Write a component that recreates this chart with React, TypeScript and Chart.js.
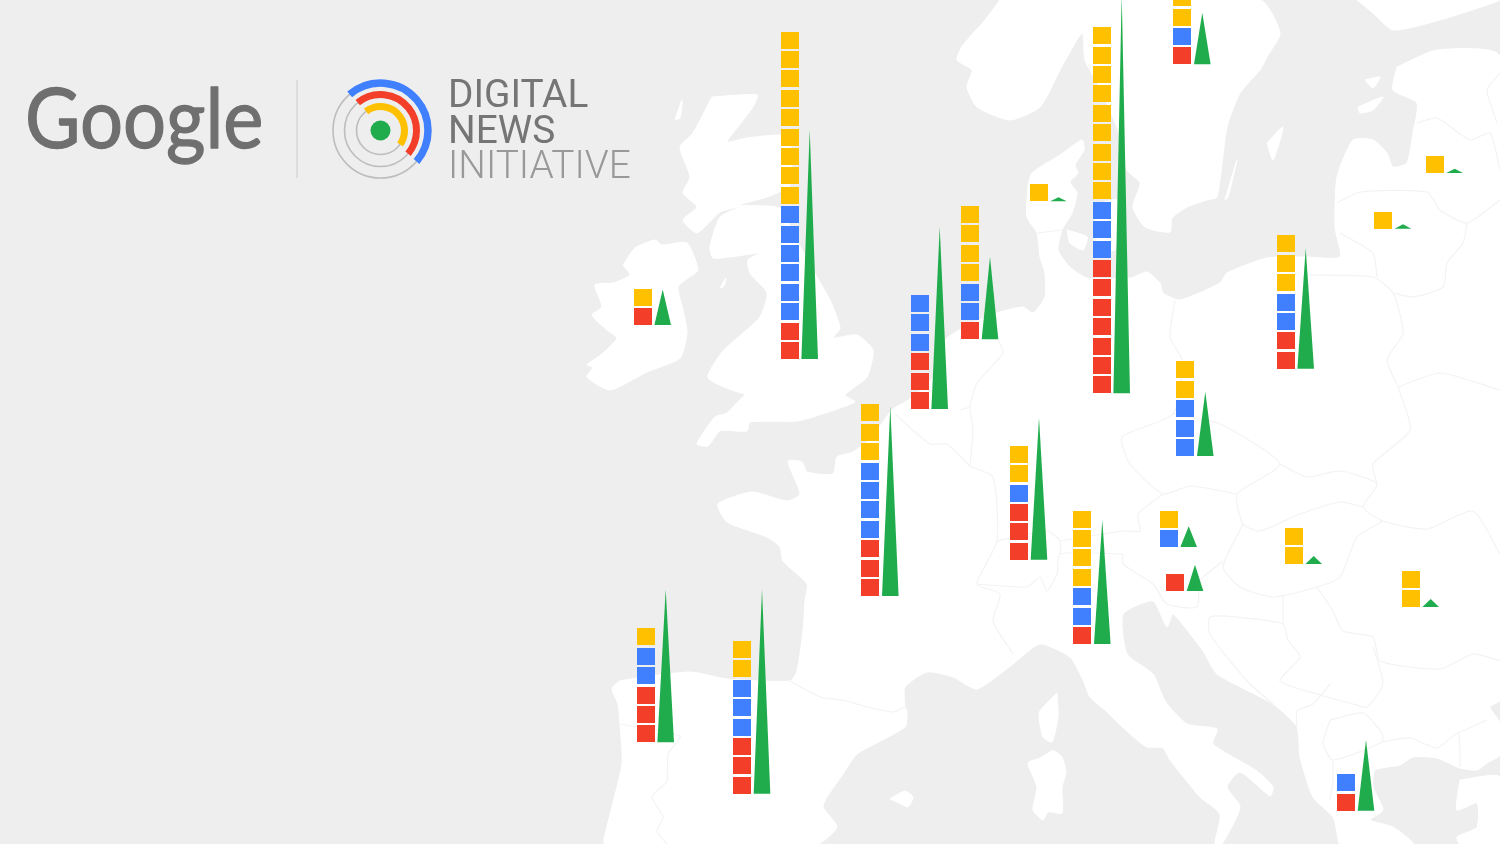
import React, { useEffect, useRef } from 'react';
import { Chart } from 'chart.js/auto';

// one entry per country, in map units (same order in every list)
const countries = ['Ireland', 'UK', 'Belgium', 'Netherlands', 'Germany', 'Sweden', 'Denmark', 'Latvia', 'Lithuania', 'Poland', 'Czechia', 'France', 'Switzerland', 'Portugal', 'Spain', 'Italy', 'Austria', 'Slovenia', 'Hungary', 'Romania', 'Greece'];
const stackX = [642.7, 789.7, 919.7, 970, 1101.7, 1182.3, 1038.5, 1434.7, 1383, 1285.7, 1185.3, 870.3, 1019, 645.7, 742, 1082.3, 1168.7, 1175, 1293.7, 1410.7, 1346];
const stackBase = [325, 359, 409, 339.3, 393.3, 64.3, 201.3, 173, 228.7, 368.7, 456, 596, 559.7, 742.3, 793.7, 644, 547, 591, 564, 607, 810.7];
const yellowCounts = [1, 9, 0, 4, 9, 2, 1, 1, 1, 3, 2, 3, 2, 1, 2, 4, 1, 0, 2, 2, 0];
const blueCounts = [0, 6, 3, 2, 3, 1, 0, 0, 0, 2, 3, 4, 1, 2, 3, 2, 1, 0, 0, 0, 1];
const redCounts = [1, 2, 3, 1, 7, 1, 0, 0, 0, 2, 0, 3, 3, 3, 3, 1, 0, 1, 0, 0, 1];
const fundingHeights = [35.5, 229, 182, 82.5, 399, 51.5, 4, 4.3, 4.4, 120.4, 64.3, 190, 142, 153, 204.7, 124, 20.7, 26.3, 8, 8, 70.7];

const mainland = [[1397, 67], [1437, 50], [1500, 57], [1500, 700], [1490, 707], [1500, 723], [1500, 755], [1487, 763], [1477, 770], [1460, 768], [1437, 758], [1413, 757], [1400, 765], [1375, 770], [1373, 787], [1383, 810], [1370, 820], [1393, 827], [1413, 844], [1340, 844], [1337, 833], [1333, 817], [1313, 797], [1300, 757], [1297, 727], [1273, 704], [1217, 674], [1203, 651], [1173, 614], [1167, 627], [1153, 601], [1123, 614], [1127, 654], [1153, 674], [1165, 701], [1187, 724], [1217, 729], [1213, 744], [1257, 771], [1273, 787], [1270, 796], [1240, 772], [1227, 787], [1240, 807], [1222, 844], [1215, 844], [1220, 814], [1200, 797], [1170, 760], [1163, 748], [1147, 747], [1137, 740], [1117, 722], [1107, 712], [1090, 697], [1083, 680], [1070, 657], [1040, 644], [1013, 664], [977, 689], [953, 677], [927, 672], [905, 687], [905, 707], [907, 711], [905, 727], [857, 754], [843, 774], [827, 797], [823, 807], [837, 827], [817, 844], [605, 844], [607, 827], [622, 764], [620, 724], [618, 704], [612, 689], [620, 681], [690, 672], [727, 679], [790, 681], [797, 671], [803, 631], [805, 601], [807, 584], [783, 561], [780, 547], [767, 537], [727, 522], [718, 504], [752, 492], [787, 501], [800, 494], [788, 461], [802, 462], [807, 472], [833, 474], [837, 457], [853, 452], [872, 437], [892, 410], [913, 397], [935, 375], [945, 340], [975, 322], [1000, 312], [1023, 307], [1033, 313], [1045, 297], [1045, 273], [1040, 257], [1037, 233], [1027, 217], [1028, 187], [1032, 173], [1060, 155], [1082, 140], [1084, 150], [1075, 165], [1078, 173], [1070, 182], [1077, 193], [1072, 213], [1062, 230], [1058, 250], [1070, 267], [1087, 278], [1130, 278], [1147, 272], [1160, 283], [1163, 293], [1180, 300], [1220, 283], [1227, 273], [1267, 258], [1307, 257], [1340, 257], [1335, 227], [1337, 177], [1353, 140], [1373, 140], [1387, 153], [1393, 167], [1407, 163], [1413, 133], [1417, 103], [1393, 90], [1397, 67]];
const greatBritain = [[712, 97], [757, 95], [753, 107], [737, 128], [727, 142], [747, 138], [780, 135], [790, 140], [790, 185], [767, 197], [740, 205], [780, 208], [793, 233], [813, 270], [830, 300], [840, 328], [833, 338], [857, 335], [873, 350], [867, 377], [845, 395], [855, 402], [813, 417], [797, 421], [750, 422], [747, 431], [720, 431], [708, 446], [697, 444], [715, 417], [727, 413], [745, 395], [773, 382], [750, 395], [708, 378], [722, 352], [735, 340], [760, 317], [767, 293], [750, 273], [748, 260], [760, 253], [730, 257], [713, 258], [710, 247], [720, 217], [740, 207], [720, 212], [697, 233], [683, 220], [697, 207], [683, 193], [690, 177], [680, 147], [693, 133], [712, 97]];
const ireland = [[623, 265], [635, 248], [655, 240], [662, 245], [687, 243], [698, 270], [688, 278], [678, 287], [683, 310], [687, 333], [680, 358], [647, 372], [610, 390], [587, 377], [593, 367], [587, 365], [603, 353], [617, 338], [607, 330], [592, 315], [602, 307], [595, 285], [613, 283], [630, 275], [623, 265]];
const scandinavia = [[1000, 0], [985, 20], [963, 45], [957, 60], [972, 70], [967, 87], [977, 107], [1010, 120], [1040, 107], [1060, 70], [1078, 38], [1083, 33], [1085, 60], [1101, 90], [1118, 130], [1127, 170], [1140, 183], [1133, 207], [1145, 227], [1170, 232], [1172, 218], [1187, 207], [1207, 200], [1217, 197], [1227, 127], [1240, 93], [1260, 70], [1267, 57], [1280, 33], [1260, 0], [1000, 0]];
const finland = [[1357, 0], [1373, 13], [1393, 30], [1440, 20], [1500, 0], [1357, 0]];
const turkey = [[1460, 780], [1500, 777], [1500, 844], [1460, 844], [1457, 837], [1477, 827], [1477, 803], [1457, 810], [1460, 780]];
const funen = [[1067, 230], [1087, 237], [1083, 250], [1070, 243], [1067, 230]];
const zealand = [[1095, 205], [1118, 200], [1115, 250], [1095, 245], [1095, 205]];
const gotland = [[1267, 143], [1283, 127], [1273, 160], [1267, 143]];
const saaremaa = [[1358, 107], [1383, 97], [1373, 110], [1360, 113], [1358, 107]];
const hiiumaa = [[1365, 80], [1380, 77], [1373, 88], [1365, 80]];
const oland = [[1225, 200], [1237, 160], [1228, 197], [1225, 200]];
const corsica = [[1057, 693], [1058, 717], [1052, 742], [1043, 737], [1039, 713], [1047, 703], [1057, 693]];
const sardinia = [[1053, 750], [1062, 757], [1066, 772], [1062, 787], [1062, 813], [1048, 812], [1043, 820], [1033, 810], [1037, 787], [1028, 763], [1040, 758], [1053, 750]];
const mallorca = [[890, 799], [905, 791], [913, 797], [908, 807], [897, 802], [890, 799]];
const hebrides = [[675, 120], [682, 100], [680, 118], [675, 120]];
const isleOfMan = [[720, 288], [726, 278], [724, 286], [720, 288]];
const landOutlines = [mainland, greatBritain, ireland, scandinavia, finland, turkey, funen, zealand, gotland, saaremaa, hiiumaa, oland, corsica, sardinia, mallorca, hebrides, isleOfMan];

const borderLines = [
  [[790, 681], [820, 697], [847, 701], [867, 707], [893, 712], [905, 707]],
  [[620, 724], [680, 736], [668, 754], [667, 781], [652, 797], [663, 817], [657, 831], [667, 844]],
  [[895, 414], [930, 444], [947, 444], [970, 466], [993, 477], [997, 541], [977, 584], [1000, 594], [993, 621], [1013, 654]],
  [[977, 584], [1027, 587], [1040, 577], [1047, 591], [1057, 574], [1060, 554], [1123, 554]],
  [[997, 541], [1047, 531], [1060, 541], [1060, 554]],
  [[1060, 541], [1123, 531], [1140, 531], [1138, 514], [1163, 494]],
  [[998, 340], [1003, 353], [977, 383], [970, 407], [973, 430], [970, 466]],
  [[960, 410], [970, 407]],
  [[1175, 300], [1170, 337], [1182, 360], [1173, 414], [1122, 437], [1130, 464], [1163, 494], [1190, 486], [1237, 494]],
  [[1173, 414], [1220, 424], [1280, 464], [1237, 494], [1243, 524], [1260, 531], [1300, 514], [1340, 502], [1363, 507]],
  [[1280, 464], [1307, 477], [1340, 471], [1377, 484], [1363, 507], [1383, 521], [1427, 529], [1473, 511], [1500, 554]],
  [[1383, 521], [1357, 537], [1340, 577], [1317, 587], [1273, 597], [1240, 587], [1223, 567], [1243, 524]],
  [[1223, 561], [1200, 581], [1197, 607], [1167, 604], [1153, 584], [1123, 564], [1123, 554]],
  [[1317, 587], [1333, 611], [1343, 631], [1373, 637], [1380, 661], [1440, 669], [1473, 654], [1500, 661]],
  [[1373, 647], [1383, 684], [1367, 707], [1353, 704], [1317, 694], [1280, 681], [1300, 657], [1288, 640], [1283, 624], [1237, 617], [1210, 617], [1210, 634], [1247, 681], [1273, 704]],
  [[1283, 594], [1283, 624]],
  [[1382, 742], [1410, 738], [1437, 748], [1458, 733], [1460, 767]],
  [[1458, 733], [1487, 720]],
  [[1330, 720], [1363, 713], [1382, 733], [1382, 742], [1333, 760], [1323, 743], [1330, 720]],
  [[1333, 760], [1333, 780], [1330, 800]],
  [[1330, 684], [1313, 704], [1297, 711], [1297, 727]],
  [[1307, 275], [1373, 277], [1393, 293], [1403, 333], [1387, 360], [1398, 387], [1410, 430], [1373, 464], [1377, 484]],
  [[1398, 387], [1440, 373], [1500, 390]],
  [[1337, 203], [1360, 192], [1427, 192], [1440, 210], [1467, 223], [1500, 200]],
  [[1467, 223], [1463, 243], [1447, 263], [1443, 287], [1413, 297], [1393, 293]],
  [[1340, 233], [1373, 253], [1377, 277]],
  [[1417, 123], [1437, 118], [1470, 140], [1490, 133], [1500, 170]],
  [[1500, 73], [1487, 90], [1497, 123]],
  [[1037, 233], [1062, 230]],
];

const YELLOW = '#ffc000';
const BLUE = '#4080ff';
const RED = '#f33f2a';
const GREEN = '#20ac4c';

const SQUARE_H = 17;
const SQUARE_PITCH = 19.4;
const TRIANGLE_OFFSET = 20;
const TRIANGLE_HALF = 8.3;

function squareImage(color: string) {
  const c = document.createElement('canvas');
  c.width = 18;
  c.height = 17;
  const g = c.getContext('2d')!;
  g.fillStyle = color;
  g.fillRect(0, 0, 18, 17);
  return c;
}

// squares sit bottom-up: red, then blue, then yellow
function squaresFor(which: 'yellow' | 'blue' | 'red') {
  const out: { x: number; y: number }[] = [];
  countries.forEach((_, i) => {
    const skip = which === 'red' ? 0 : which === 'blue' ? redCounts[i] : redCounts[i] + blueCounts[i];
    const n = which === 'red' ? redCounts[i] : which === 'blue' ? blueCounts[i] : yellowCounts[i];
    for (let k = 0; k < n; k++) {
      out.push({ x: stackX[i], y: stackBase[i] - SQUARE_H / 2 - (skip + k) * SQUARE_PITCH });
    }
  });
  return out;
}

const toPoints = (line: number[][]) => line.map(([x, y]) => ({ x, y }));

const logoPlugin = {
  id: 'logo',
  afterDraw(chart: Chart) {
    const ctx = chart.ctx;
    ctx.save();
    ctx.textBaseline = 'alphabetic';
    ctx.textAlign = 'left';

    ctx.save();
    ctx.translate(25, 148);
    ctx.scale(0.915, 1);
    ctx.fillStyle = '#6f6f6f';
    ctx.strokeStyle = '#6f6f6f';
    ctx.lineWidth = 1.3;
    ctx.lineJoin = 'round';
    ctx.font = '400 83px Lato';
    ctx.fillText('Google', 0, 0);
    ctx.strokeText('Google', 0, 0);
    ctx.restore();

    ctx.fillStyle = '#757575';
    ctx.font = '400 38.8px Roboto';
    ctx.fillText('DIGITAL', 448, 107);
    ctx.fillText('NEWS', 448, 143);
    ctx.fillStyle = '#999999';
    ctx.font = '300 38.8px Roboto';
    ctx.fillText('INITIATIVE', 448, 178);

    // divider
    ctx.strokeStyle = '#d6d6d6';
    ctx.lineWidth = 1.5;
    ctx.beginPath();
    ctx.moveTo(297, 80);
    ctx.lineTo(297, 178);
    ctx.stroke();

    // rings
    const cx = 380.5;
    const cy = 130.5;
    const rad = (d: number) => (d * Math.PI) / 180;
    ctx.strokeStyle = '#bdbdbd';
    ctx.lineWidth = 1.6;
    [47.5, 36, 24].forEach((r) => {
      ctx.beginPath();
      ctx.arc(cx, cy, r, 0, Math.PI * 2);
      ctx.stroke();
    });
    const arcs: [number, number, string, number, number][] = [
      [47.5, 7.5, BLUE, 229.5, 40.7],
      [36, 7, RED, 230.8, 40],
      [24, 7, YELLOW, 233, 35.5],
    ];
    arcs.forEach(([r, w, col, a, b]) => {
      ctx.strokeStyle = col;
      ctx.lineWidth = w;
      ctx.beginPath();
      ctx.arc(cx, cy, r, rad(a), rad(b));
      ctx.stroke();
    });
    ctx.fillStyle = GREEN;
    ctx.beginPath();
    ctx.arc(cx, cy, 10, 0, Math.PI * 2);
    ctx.fill();
    ctx.restore();
  },
};

export default function App() {
  const chartRef = useRef<HTMLCanvasElement>(null);

  useEffect(() => {
    if (!chartRef.current) return;
    document.body.style.margin = '0';

    const landSets = landOutlines.map((line) => ({
      data: toPoints(line),
      showLine: true,
      fill: 'shape',
      backgroundColor: '#ffffff',
      borderColor: '#ffffff',
      borderWidth: 1,
      pointRadius: 0,
      tension: 0.2,
      order: 10,
    }));
    const borderSets = borderLines.map((line) => ({
      data: toPoints(line),
      showLine: true,
      fill: false,
      borderColor: '#f3f3f3',
      borderWidth: 1.2,
      pointRadius: 0,
      tension: 0.2,
      order: 9,
    }));
    const triangleSets = countries.map((_, i) => {
      const mid = stackX[i] + TRIANGLE_OFFSET;
      return {
        data: [
          { x: mid - TRIANGLE_HALF, y: stackBase[i] },
          { x: mid, y: stackBase[i] - fundingHeights[i] },
          { x: mid + TRIANGLE_HALF, y: stackBase[i] },
          { x: mid - TRIANGLE_HALF, y: stackBase[i] },
        ],
        showLine: true,
        fill: 'shape',
        backgroundColor: GREEN,
        borderWidth: 0,
        pointRadius: 0,
        tension: 0,
        order: 2,
      };
    });
    const squareSets = [
      { data: squaresFor('yellow'), pointStyle: squareImage(YELLOW), order: 1, pointRadius: 10, clip: false },
      { data: squaresFor('blue'), pointStyle: squareImage(BLUE), order: 1, pointRadius: 10, clip: false },
      { data: squaresFor('red'), pointStyle: squareImage(RED), order: 1, pointRadius: 10, clip: false },
    ];

    const chart = new Chart(chartRef.current, {
      type: 'scatter',
      data: { datasets: [...squareSets, ...triangleSets, ...borderSets, ...landSets] as any },
      options: {
        animation: false,
        responsive: false,
        events: [],
        layout: { padding: 0, autoPadding: false },
        scales: {
          x: { type: 'linear', display: false, min: 0, max: 1500 },
          y: { type: 'linear', display: false, min: 0, max: 844, reverse: true },
        },
        plugins: { legend: { display: false }, tooltip: { enabled: false } },
      },
      plugins: [logoPlugin],
    });

    return () => chart.destroy();
  }, []);

  return (
    <div style={{ position: 'absolute', left: 0, top: 0, width: 1500, height: 844, background: '#eeeeee', overflow: 'hidden' }}>
      <canvas ref={chartRef} width={1500} height={844} style={{ display: 'block', filter: 'blur(0.5px)' }} />
    </div>
  );
}
